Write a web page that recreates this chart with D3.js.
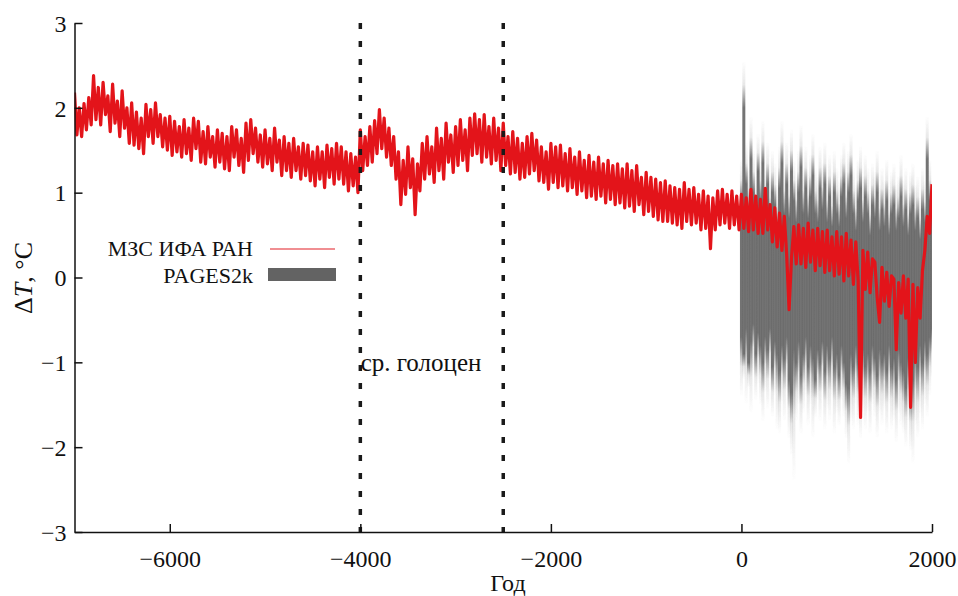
<!DOCTYPE html>
<html>
<head>
<meta charset="utf-8">
<script src="https://cdn.jsdelivr.net/npm/d3@7"></script>
<style>
  html, body { margin: 0; padding: 0; background: #fff; }
  svg { display: block; }
  text { font-family: "Liberation Serif", "DejaVu Serif", serif; fill: #111; }
</style>
</head>
<body>
<svg id="chart" width="958" height="596"></svg>
<script>
// Model temperature anomaly (ΔT, °C), one value every 25 years from −7000 to 2000
const modelStart = -7000;
const modelStep = 25;
const modelValues = [
  2.18, 1.68, 2.00, 1.66, 2.05, 1.74, 2.12, 1.80,
  2.38, 1.86, 2.24, 1.80, 2.30, 1.92, 2.14, 1.72,
  2.28, 1.82, 2.08, 1.66, 2.20, 1.76, 2.00, 1.58,
  2.06, 1.56, 1.95, 1.52, 1.88, 1.46, 2.04, 1.66,
  1.98, 1.58, 2.06, 1.66, 1.92, 1.54, 1.88, 1.50,
  1.90, 1.44, 1.84, 1.48, 1.78, 1.42, 1.86, 1.46,
  1.76, 1.38, 1.88, 1.52, 1.84, 1.36, 1.72, 1.34,
  1.78, 1.42, 1.66, 1.30, 1.74, 1.36, 1.70, 1.28,
  1.66, 1.26, 1.78, 1.42, 1.74, 1.32, 1.64, 1.24,
  1.82, 1.38, 1.86, 1.46, 1.76, 1.36, 1.68, 1.30,
  1.74, 1.34, 1.64, 1.26, 1.76, 1.36, 1.62, 1.20,
  1.66, 1.26, 1.58, 1.18, 1.64, 1.26, 1.54, 1.16,
  1.58, 1.20, 1.56, 1.14, 1.48, 1.08, 1.54, 1.16,
  1.48, 1.06, 1.56, 1.18, 1.52, 1.10, 1.58, 1.16,
  1.54, 1.10, 1.48, 1.02, 1.46, 1.08, 1.42, 1.00,
  1.74, 1.26, 1.66, 1.32, 1.78, 1.36, 1.85, 1.46,
  1.98, 1.52, 1.88, 1.42, 1.76, 1.32, 1.66, 1.16,
  1.48, 0.86, 1.38, 0.98, 1.54, 1.06, 1.40, 0.74,
  1.34, 1.02, 1.58, 1.16, 1.66, 1.22, 1.54, 1.12,
  1.76, 1.26, 1.64, 1.16, 1.82, 1.36, 1.68, 1.24,
  1.78, 1.32, 1.86, 1.38, 1.74, 1.26, 1.88, 1.44,
  1.93, 1.46, 1.86, 1.36, 1.92, 1.42, 1.78, 1.34,
  1.88, 1.38, 1.76, 1.26, 1.82, 1.32, 1.66, 1.22,
  1.72, 1.24, 1.64, 1.16, 1.58, 1.18, 1.66, 1.22,
  1.70, 1.26, 1.62, 1.14, 1.54, 1.12, 1.48, 1.04,
  1.58, 1.12, 1.54, 1.06, 1.56, 1.08, 1.46, 1.02,
  1.52, 1.06, 1.42, 0.98, 1.48, 1.02, 1.38, 0.94,
  1.44, 0.96, 1.36, 0.92, 1.42, 0.96, 1.34, 0.88,
  1.38, 0.92, 1.32, 0.86, 1.34, 0.88, 1.28, 0.82,
  1.34, 0.84, 1.26, 0.78, 1.32, 0.86, 1.18, 0.74,
  1.24, 0.78, 1.18, 0.72, 1.16, 0.68, 1.12, 0.66,
  1.14, 0.66, 1.08, 0.64, 1.06, 0.62, 1.04, 0.58,
  1.12, 0.66, 1.04, 0.62, 1.06, 0.64, 0.98, 0.56,
  1.02, 0.58, 0.96, 0.34, 0.94, 0.56, 1.02, 0.62,
  1.04, 0.64, 0.98, 0.58, 1.02, 0.62, 0.96, 0.56,
  0.98, 0.58, 0.94, 0.54, 1.04, 0.56, 0.96, 0.52,
  0.92, 0.52, 1.05, 0.56, 0.86, 0.42, 0.82, 0.36,
  0.76, 0.32, 0.72, 0.26, -0.38, 0.22, 0.60, 0.16,
  0.62, 0.16, 0.58, 0.12, 0.64, 0.18, 0.56, 0.08,
  0.58, 0.14, 0.54, 0.06, 0.56, 0.08, 0.48, 0.02,
  0.54, 0.04, 0.48, -0.04, 0.52, 0.02, 0.44, -0.08,
  0.42, -0.04, -1.65, 0.32, -0.14, 0.30, -0.18, 0.22,
  0.18, -0.24, -0.53, 0.12, -0.28, 0.06, -0.34, 0.02,
  -0.02, -0.85, -0.06, -0.42, 0.02, -0.48, -0.02, -1.53,
  -0.08, -1.00, -0.12, -0.48, 0.08, 0.32, 0.72, 0.52,
  1.10
];

// PAGES2k ensemble spread, one value every 25 years from 0 to 2000
const pagesStart = 0;
const pagesStep = 25;
const pagesTopFaint = [
  1.40, 2.55, 1.60, 1.30, 1.90, 1.50, 1.20, 1.70,
  1.40, 1.85, 1.30, 1.60, 1.20, 1.50, 1.35, 1.10,
  1.55, 1.85, 1.30, 1.60, 1.25, 1.75, 1.40, 1.20,
  1.50, 1.80, 1.30, 1.55, 1.25, 1.45, 1.70, 1.30,
  1.20, 1.55, 1.35, 1.60, 1.20, 1.45, 1.10, 1.50,
  1.30, 1.15, 1.45, 1.60, 1.25, 1.50, 1.70, 1.30,
  1.10, 1.40, 1.55, 1.20, 1.45, 1.30, 1.00, 1.35,
  1.25, 1.50, 1.10, 1.30, 1.15, 1.40, 1.05, 1.25,
  1.35, 1.10, 1.20, 1.45, 1.15, 1.30, 1.00, 1.25,
  1.35, 1.10, 1.20, 0.95, 1.30, 1.15, 1.90, 1.40,
  1.20
];
const pagesTop = [
  0.90, 2.00, 1.10, 0.80, 1.40, 1.00, 0.70, 1.25,
  0.90, 1.35, 0.80, 1.10, 0.70, 1.00, 0.85, 0.60,
  1.05, 1.35, 0.75, 1.10, 0.70, 1.25, 0.90, 0.65,
  1.00, 1.30, 0.75, 1.05, 0.70, 0.95, 1.20, 0.75,
  0.65, 1.05, 0.80, 1.10, 0.65, 0.95, 0.60, 1.00,
  0.75, 0.60, 0.95, 1.10, 0.70, 1.00, 1.20, 0.75,
  0.55, 0.90, 1.05, 0.65, 0.95, 0.75, 0.50, 0.85,
  0.70, 1.00, 0.55, 0.80, 0.60, 0.90, 0.50, 0.75,
  0.85, 0.55, 0.70, 0.95, 0.60, 0.80, 0.50, 0.75,
  0.85, 0.55, 0.70, 0.45, 0.80, 0.65, 1.40, 0.90,
  0.70
];
const pagesBottom = [
  -0.70, -0.90, -0.60, -1.00, -0.75, -0.55, -0.90, -0.65,
  -0.80, -1.00, -0.70, -0.85, -0.60, -1.05, -0.75, -0.90,
  -1.10, -0.80, -0.95, -0.70, -1.20, -1.35, -0.85, -1.00,
  -0.75, -1.15, -0.90, -0.70, -1.05, -0.80, -0.95, -1.20,
  -0.85, -1.00, -0.75, -1.10, -0.80, -0.95, -0.70, -1.05,
  -0.90, -1.15, -0.80, -1.00, -1.25, -1.30, -0.90, -1.05,
  -0.80, -1.00, -1.20, -0.85, -1.05, -0.90, -1.10, -0.80,
  -0.95, -1.15, -0.85, -1.00, -0.90, -1.10, -0.80, -1.05,
  -0.95, -1.20, -0.85, -1.00, -1.10, -1.30, -0.95, -1.35,
  -1.20, -0.90, -1.05, -0.80, -1.00, -0.75, -0.90, -0.70,
  -0.60
];
const pagesBottomFaint = [
  -1.40, -1.20, -1.50, -1.30, -1.60, -1.10, -1.45, -1.25,
  -1.50, -1.70, -1.35, -1.55, -1.20, -1.65, -1.40, -1.80,
  -1.85, -1.50, -1.70, -1.35, -1.90, -2.10, -2.40, -1.70,
  -1.50, -1.85, -1.60, -1.40, -1.75, -1.50, -1.90, -1.65,
  -1.45, -1.70, -1.35, -1.80, -1.55, -1.70, -1.40, -1.85,
  -1.60, -1.75, -1.45, -1.65, -1.90, -2.20, -1.70, -1.80,
  -1.50, -1.75, -1.90, -1.55, -1.80, -1.60, -1.85, -1.50,
  -1.65, -1.90, -1.60, -1.75, -1.55, -1.85, -1.50, -1.80,
  -1.70, -1.95, -1.60, -1.75, -1.85, -2.00, -1.70, -2.05,
  -2.20, -1.75, -1.90, -1.60, -1.80, -1.50, -1.65, -1.40,
  -1.20
];

// Axis ticks and period markers
const xTicks = [-6000, -4000, -2000, 0, 2000];
const yTicks = [-3, -2, -1, 0, 1, 2, 3];
const periodBounds = [-4000, -2500];
const periodLabel = "ср. голоцен";
const legendLabels = ["МЗС ИФА РАН", "PAGES2k"];

const svg = d3.select("#chart");
const x = d3.scaleLinear().domain([-7000, 2000]).range([74.5, 932]);
const y = d3.scaleLinear().domain([-3, 3]).range([532, 23]);

const model = modelValues.map((v, i) => ({ year: modelStart + i * modelStep, v }));
const pages = pagesTop.map((v, i) => ({
  year: pagesStart + i * pagesStep,
  tf: pagesTopFaint[i], t: v, b: pagesBottom[i], bf: pagesBottomFaint[i]
}));

const defs = svg.append("defs");
defs.append("clipPath").attr("id", "plot-clip")
  .append("rect").attr("x", 74.5).attr("y", 23).attr("width", 932 - 74.5).attr("height", 532 - 23);
defs.append("filter").attr("id", "soft").attr("x", "-5%").attr("y", "-5%").attr("width", "110%").attr("height", "110%")
  .append("feGaussianBlur").attr("stdDeviation", 0.5);

// PAGES2k ensemble: vertical strips fading towards the outer envelope
const grey = "#646464";
pages.forEach((d, i) => {
  const y0 = y(d.tf), y1 = y(d.bf), span = y1 - y0;
  const g = defs.append("linearGradient").attr("id", "pg" + i)
    .attr("gradientUnits", "userSpaceOnUse")
    .attr("x1", 0).attr("x2", 0).attr("y1", y0).attr("y2", y1);
  const oTop = (y(d.t) - y0) / span, oBot = (y(d.b) - y0) / span;
  [[0, 0], [oTop * 0.5, 0.15], [oTop, 0.9], [oBot, 0.9], [oBot + (1 - oBot) * 0.5, 0.15], [1, 0]]
    .forEach(([o, a]) => g.append("stop").attr("offset", o).attr("stop-color", grey).attr("stop-opacity", a));
});
const plot = svg.append("g").attr("clip-path", "url(#plot-clip)");
plot.append("g").attr("filter", "url(#soft)")
  .selectAll("rect").data(pages).join("rect")
  .attr("x", d => x(d.year) - 1.5)
  .attr("width", 3)
  .attr("y", d => y(d.tf))
  .attr("height", d => y(d.bf) - y(d.tf))
  .attr("fill", (d, i) => `url(#pg${i})`);

// Model series
plot.append("path")
  .datum(model)
  .attr("fill", "none")
  .attr("stroke", "#e3141a")
  .attr("stroke-width", 3.2)
  .attr("stroke-linejoin", "round")
  .attr("d", d3.line().x(d => x(d.year)).y(d => y(d.v)));

// Middle Holocene boundaries
svg.append("g").selectAll("line").data(periodBounds).join("line")
  .attr("x1", d => x(d)).attr("x2", d => x(d))
  .attr("y1", y(3)).attr("y2", y(-3))
  .attr("stroke", "#1a1a1a").attr("stroke-width", 3.5)
  .attr("stroke-dasharray", "6,12");

svg.append("text")
  .attr("x", 421)
  .attr("y", 371)
  .attr("text-anchor", "middle")
  .style("font-size", "25px")
  .text(periodLabel);

// Axes with inward ticks
const xAxis = svg.append("g").attr("transform", `translate(0,${y(-3)})`)
  .call(d3.axisBottom(x).tickValues(xTicks).tickSizeInner(-8).tickSizeOuter(0)
    .tickFormat(d => d < 0 ? "\u2212" + Math.abs(d) : d).tickPadding(18));
const yAxis = svg.append("g").attr("transform", `translate(${x(-7000)},0)`)
  .call(d3.axisLeft(y).tickValues(yTicks).tickSizeInner(-8).tickSizeOuter(0)
    .tickFormat(d => d < 0 ? "\u2212" + Math.abs(d) : d).tickPadding(8));
[xAxis, yAxis].forEach(a => {
  a.select(".domain").attr("stroke", "#111").attr("stroke-width", 1.5);
  a.selectAll(".tick line").attr("stroke", "#111").attr("stroke-width", 1.5);
  a.selectAll(".tick text").attr("fill", "#111")
    .style("font-family", "'Liberation Serif', serif").style("font-size", "24px");
});
yAxis.selectAll(".tick text").attr("dy", "0.34em");

// Axis titles
svg.append("text")
  .attr("x", 508).attr("y", 591)
  .attr("text-anchor", "middle")
  .style("font-size", "24px")
  .text("Год");

const yTitle = svg.append("text")
  .attr("transform", "translate(32,278) rotate(-90)")
  .attr("text-anchor", "middle")
  .style("font-size", "26px");
yTitle.append("tspan").text("\u0394");
yTitle.append("tspan").style("font-style", "italic").text("T");
yTitle.append("tspan").text(", \u00B0C");

// Legend
const legend = svg.append("g");
legend.append("text").attr("x", 253).attr("y", 256).attr("text-anchor", "end")
  .style("font-size", "22px").text(legendLabels[0]);
legend.append("line").attr("x1", 270).attr("x2", 335).attr("y1", 249).attr("y2", 249)
  .attr("stroke", "#f08e92").attr("stroke-width", 2);
legend.append("text").attr("x", 253).attr("y", 283).attr("text-anchor", "end")
  .style("font-size", "22px").text(legendLabels[1]);
legend.append("rect").attr("x", 268).attr("y", 268).attr("width", 68).attr("height", 13)
  .attr("fill", "#646464").attr("filter", "url(#soft)");
</script>
</body>
</html>
